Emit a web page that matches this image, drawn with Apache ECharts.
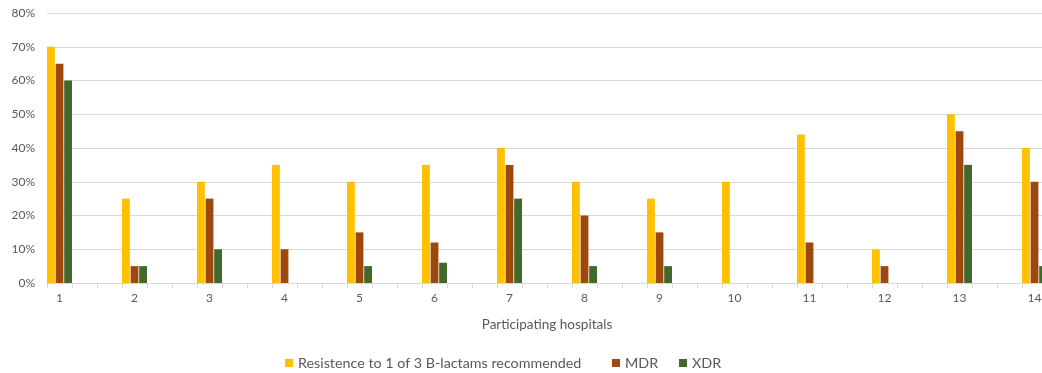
<!DOCTYPE html>
<html>
<head>
<meta charset="utf-8">
<script src="https://cdn.jsdelivr.net/npm/echarts@6/dist/echarts.min.js"></script>
<style>
  html, body { margin: 0; padding: 0; background: #fff; overflow: hidden; }
  #chart { width: 1052px; height: 373px; }
</style>
</head>
<body>
<div id="chart"></div>
<script>
// Hospitals and resistance shares (%)
const hospitals = ['1','2','3','4','5','6','7','8','9','10','11','12','13','14'];
const resistance = [70, 25, 30, 35, 30, 35, 40, 30, 25, 30, 44, 10, 50, 40];
const mdr        = [65,  5, 25, 10, 15, 12, 35, 20, 15,  0, 12,  5, 45, 30];
const xdr        = [60,  5, 10,  0,  5,  6, 25,  5,  5,  0,  0,  0, 35,  5];
const yTicks = [0, 10, 20, 30, 40, 50, 60, 70, 80];

const seriesNames = ['Resistence to 1 of 3 B-lactams recommended', 'MDR', 'XDR'];
const colors = ['#FFC000', '#9E480E', '#43682B'];
const legendLeft = [280, 607, 674];

// Each hospital takes one slot; two empty spacer slots separate neighbours
const SPACERS = 2;
const categories = [];
const isLast = i => i === hospitals.length - 1;
hospitals.forEach((h, i) => {
  categories.push(h);
  if (!isLast(i)) for (let k = 0; k < SPACERS; k++) categories.push('');
});
function expand(values) {
  const out = [];
  values.forEach((v, i) => {
    out.push(v);
    if (!isLast(i)) for (let k = 0; k < SPACERS; k++) out.push(null);
  });
  return out;
}

const chart = echarts.init(document.getElementById('chart'), null, { renderer: 'canvas' });
const font = 'Lato, "Liberation Sans", sans-serif';

chart.setOption({
  animation: false,
  textStyle: { fontFamily: font },
  grid: { left: 47, top: 13, bottom: 90, right: 5, containLabel: false },
  legend: seriesNames.map((name, i) => ({
    data: [name],
    left: legendLeft[i],
    top: 351,
    icon: 'rect',
    itemWidth: 8,
    itemHeight: 8,
    textStyle: { color: '#595959', fontSize: 14.3, fontFamily: font }
  })),
  xAxis: {
    type: 'category',
    data: categories,
    name: 'Participating hospitals',
    nameLocation: 'middle',
    nameGap: 35,
    nameTextStyle: { color: '#595959', fontSize: 13.5, fontFamily: font },
    axisLine: { lineStyle: { color: '#d9d9d9', width: 1 } },
    axisTick: { show: true, interval: 0, length: 5, lineStyle: { color: '#d9d9d9' } },
    axisLabel: { interval: 0, color: '#595959', fontSize: 12, margin: 9, fontFamily: font },
    splitLine: { show: false }
  },
  yAxis: {
    type: 'value',
    min: yTicks[0],
    max: yTicks[yTicks.length - 1],
    interval: 10,
    axisLine: { show: false },
    axisTick: { show: false },
    axisLabel: { formatter: '{value}%', color: '#595959', fontSize: 12, margin: 12, fontFamily: font },
    splitLine: { lineStyle: { color: '#d9d9d9', width: 1 } }
  },
  series: [resistance, mdr, xdr].map((vals, i) => ({
    name: seriesNames[i],
    type: 'bar',
    data: expand(vals),
    barGap: '10%',
    barCategoryGap: '0%',
    itemStyle: { color: colors[i] }
  }))
});
</script>
</body>
</html>
